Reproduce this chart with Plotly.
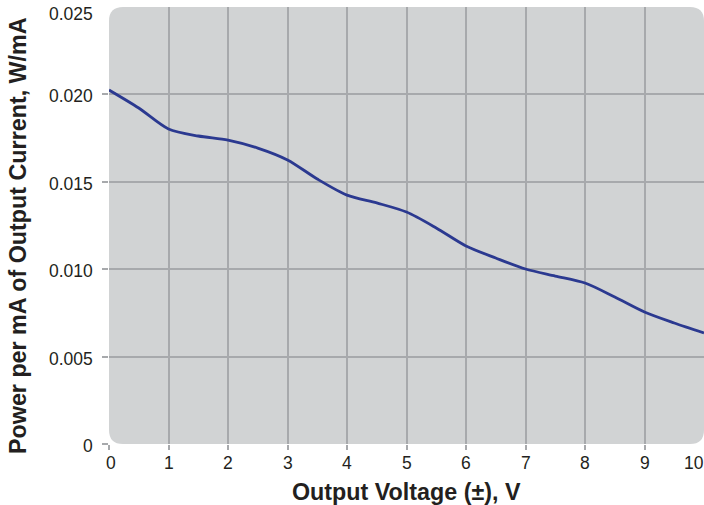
import plotly.graph_objects as go

# Data
voltage = [0, 0.5, 1, 1.5, 2, 2.5, 3, 3.5, 4, 4.5, 5, 5.5, 6, 6.5, 7, 7.5, 8, 8.5, 9, 9.5, 10]
power_per_ma = [0.02025, 0.01922, 0.01802, 0.01762, 0.01739, 0.01693, 0.01625, 0.01516,
                0.01424, 0.01379, 0.01327, 0.01236, 0.01133, 0.01064, 0.01001, 0.00961,
                0.00921, 0.00841, 0.00755, 0.00692, 0.00635]
x_ticks = [0, 1, 2, 3, 4, 5, 6, 7, 8, 9, 10]
x_tick_labels = ["0", "1", "2", "3", "4", "5", "6", "7", "8", "9", "10"]
y_ticks = [0, 0.005, 0.010, 0.015, 0.020, 0.025]
y_tick_labels = ["0", "0.005", "0.010", "0.015", "0.020", "0.025"]
x_title = "Output Voltage (±), V"
y_title = "Power per mA of Output Current, W/mA"

W, H = 704, 505
ML, MR, MT, MB = 109, 0, 7, 61
X0, X1 = 0, 10
Y0, Y1 = 0, 0.025
pw = W - ML - MR
ph = H - MT - MB
r = 14
rx = r * (X1 - X0) / pw
ry = r * (Y1 - Y0) / ph

path = (f"M {X0+rx},{Y0} L {X1-rx},{Y0} Q {X1},{Y0} {X1},{Y0+ry} "
        f"L {X1},{Y1-ry} Q {X1},{Y1} {X1-rx},{Y1} "
        f"L {X0+rx},{Y1} Q {X0},{Y1} {X0},{Y1-ry} "
        f"L {X0},{Y0+ry} Q {X0},{Y0} {X0+rx},{Y0} Z")

FONT = "Liberation Sans, Arial, sans-serif"
TXT = "#231f20"
GRID = "#a7a9ac"
TICK_SIZE = 17.5
TITLE_SIZE = 23.3
tick_font = dict(family=FONT, size=TICK_SIZE, color=TXT)
title_font = dict(family=FONT, size=TITLE_SIZE, color=TXT)

fig = go.Figure()
fig.add_trace(go.Scatter(
    x=voltage, y=power_per_ma, mode="lines",
    line=dict(color="#2b3990", width=2.8, shape="spline", smoothing=0.8),
    hoverinfo="skip", showlegend=False,
))

fig.add_shape(type="path", path=path, xref="x", yref="y",
              fillcolor="#d1d3d4", line=dict(width=0), layer="below")

fig.update_layout(
    template="none",
    width=W, height=H,
    margin=dict(l=ML, r=MR, t=MT, b=MB, pad=0),
    plot_bgcolor="white", paper_bgcolor="white",
    font=dict(family=FONT, size=TICK_SIZE, color=TXT),
    xaxis=dict(
        range=[X0, X1], tickvals=x_ticks[:-1], showticklabels=False,
        showgrid=True, gridcolor=GRID, gridwidth=1.5, zeroline=False,
        ticks="outside", ticklen=5, tickwidth=1.5, tickcolor=GRID,
        showline=False, automargin=False,
    ),
    yaxis=dict(
        range=[Y0, Y1], tickvals=y_ticks[:-1], showticklabels=False,
        showgrid=True, gridcolor=GRID, gridwidth=1.5, zeroline=False,
        ticks="outside", ticklen=6, tickwidth=1.5, tickcolor=GRID,
        showline=False, automargin=False,
    ),
)

# Tick labels (placed on the axis scales)
for i, (v, lab) in enumerate(zip(x_ticks, x_tick_labels)):
    if i == len(x_ticks) - 1:
        anchor, xs = "right", 2
    elif i == 0:
        anchor, xs = "center", 2
    else:
        anchor, xs = "center", 0
    fig.add_annotation(x=v, xref="x", y=0, yref="paper", xanchor=anchor, yanchor="middle",
                       text=lab, showarrow=False, xshift=xs, yshift=-19, font=tick_font)
for i, (v, lab) in enumerate(zip(y_ticks, y_tick_labels)):
    ys = -7 if i == len(y_ticks) - 1 else -2
    fig.add_annotation(x=0, xref="paper", y=v, yref="y", xanchor="right", yanchor="middle",
                       text=lab, showarrow=False, xshift=-14, yshift=ys, font=tick_font)

# Axis titles
fig.add_annotation(x=0.5, xref="paper", y=0, yref="paper", xanchor="center", yanchor="middle",
                   text=f"<b>{x_title}</b>", showarrow=False, yshift=-48, font=title_font)
fig.add_annotation(x=0, xref="paper", xanchor="center", xshift=-91,
                   y=(444 - 236) / ph, yref="paper", yanchor="middle",
                   text=f"<b>{y_title}</b>", textangle=-90, showarrow=False, font=title_font)

fig.write_html("out.html")
